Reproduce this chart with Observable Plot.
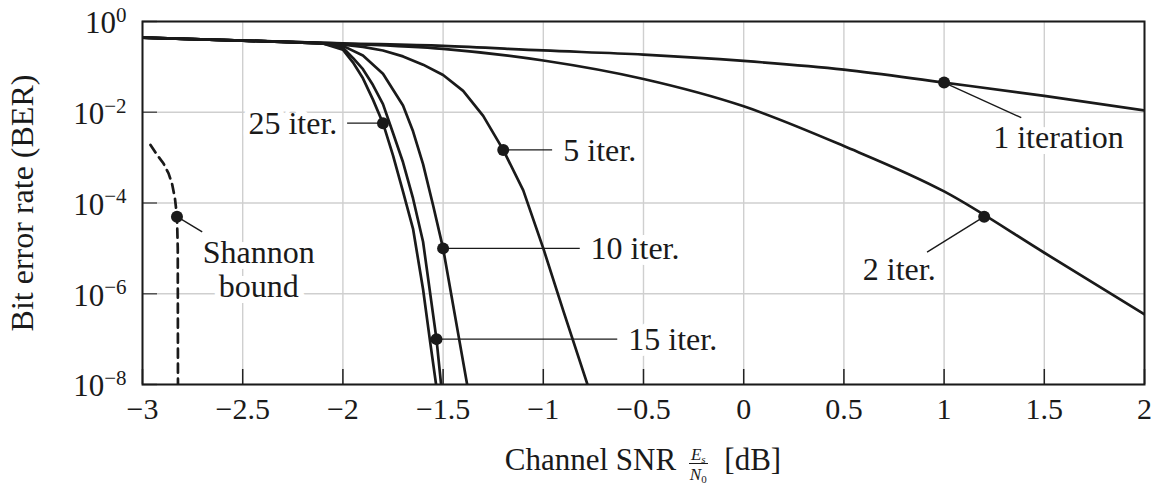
<!DOCTYPE html>
<html>
<head>
<meta charset="utf-8">
<script src="https://cdn.jsdelivr.net/npm/d3@7"></script>
<script src="https://cdn.jsdelivr.net/npm/@observablehq/plot@0.6"></script>
<style>
  body { margin: 0; background: #fff; }
  #wrap { position: relative; width: 1158px; height: 484px; font-family: "Liberation Serif", serif; color: #1a1a1a; }
  #xlabel { position: absolute; left: 142px; width: 1002px; top: 444px; text-align: center; font-size: 31px; line-height: 31px; white-space: nowrap; }
  .frac { display: inline-block; vertical-align: -10px; text-align: center; font-size: 17px; line-height: 15px; margin: 0 9px 0 5px; }
  .frac .num { display: block; border-bottom: 1.3px solid #1a1a1a; padding: 0 2px 1px 2px; }
  .frac .den { display: block; padding-top: 3px; }
  .frac sub { font-size: 11px; line-height: 0; vertical-align: -3px; }
</style>
</head>
<body>
<div id="wrap">
  <div id="chart"></div>
  <div id="xlabel">Channel SNR <span class="frac"><span class="num"><i>E</i><sub><i>s</i></sub></span><span class="den"><i>N</i><sub>0</sub></span></span> [dB]</div>
</div>
<script>
// ---- axis ticks ----
const xTicks = [-3, -2.5, -2, -1.5, -1, -0.5, 0, 0.5, 1, 1.5, 2];
const yTicks = [1, 1e-2, 1e-4, 1e-6, 1e-8];
const yLabel = "Bit error rate (BER)";

// ---- curves (SNR in dB, BER) ----
const snr1 = [-3, -2.5, -2, -1.5, -1, -0.5, 0, 0.5, 1, 1.5, 2];
const ber1 = [0.44, 0.38, 0.33, 0.29, 0.23, 0.186, 0.135, 0.087, 0.045, 0.023, 0.011];

const snr2 = [-3, -2.5, -2, -1.5, -1, -0.5, 0, 0.5, 1, 1.5, 2];
const ber2 = [0.44, 0.38, 0.325, 0.25, 0.138, 0.054, 0.0135, 1.8e-3, 1.8e-4, 8e-6, 3.5e-7];

const snr5 = [-3, -2.5, -2.1, -2, -1.9, -1.8, -1.7, -1.6, -1.5, -1.4, -1.3, -1.2, -1.1, -1, -0.9, -0.75];
const ber5 = [0.44, 0.38, 0.33, 0.31, 0.275, 0.23, 0.17, 0.112, 0.066, 0.0295, 8.3e-3, 1.48e-3, 1.9e-4, 1.0e-5, 4.2e-7, 4e-9];

const snr10 = [-3, -2.5, -2.1, -2, -1.9, -1.8, -1.7, -1.65, -1.6, -1.55, -1.5, -1.46, -1.42, -1.38, -1.36];
const ber10 = [0.44, 0.38, 0.33, 0.29, 0.178, 0.0708, 0.0141, 3.8e-3, 7.2e-4, 8.9e-5, 1e-5, 1e-6, 1e-7, 1e-8, 3.2e-9];

const snr15 = [-3, -2.5, -2.1, -2, -1.95, -1.9, -1.85, -1.8, -1.75, -1.7, -1.65, -1.6, -1.533, -1.51, -1.5];
const ber15 = [0.44, 0.38, 0.33, 0.263, 0.158, 0.089, 0.0398, 0.0151, 3.5e-3, 7.9e-4, 1.26e-4, 1.4e-5, 1e-7, 1e-8, 4e-9];

const snr25 = [-3, -2.5, -2.1, -2, -1.95, -1.9, -1.85, -1.8, -1.75, -1.7, -1.65, -1.6, -1.565, -1.535, -1.52];
const ber25 = [0.44, 0.38, 0.33, 0.24, 0.126, 0.056, 0.019, 5.75e-3, 1.12e-3, 1.78e-4, 2.7e-5, 1.26e-6, 8.9e-8, 1e-8, 3.2e-9];

const snrShannon = [-2.96, -2.93, -2.895, -2.87, -2.852, -2.838, -2.828, -2.824, -2.823];
const berShannon = [1.9e-3, 1.2e-3, 7.4e-4, 4.5e-4, 2.6e-4, 1.26e-4, 5e-5, 1e-5, 1e-8];

// ---- annotations ----
const annText   = ["1 iteration", "2 iter.", "5 iter.", "10 iter.", "15 iter.", "25 iter.", "Shannon\nbound"];
const annSnr    = [1, 1.2, -1.2, -1.5, -1.533, -1.8, -2.828];
const annBer    = [0.045, 5e-5, 1.48e-3, 1e-5, 1e-7, 5.75e-3, 5e-5];
const leadSnr   = [1.385, 0.915, -0.956, -0.818, -0.631, -1.979, -2.702];
const leadBer   = [7.6e-3, 8.3e-6, 1.48e-3, 1e-5, 1e-7, 5.75e-3, 2.3e-5];
const textSnr   = [1.571, 0.776, -0.9, -0.764, -0.576, -2.028, -2.42];
const textBer   = [2.8e-3, 3.4e-6, 1.48e-3, 1e-5, 1e-7, 5.75e-3, 3.5e-6];
const textAnchor = ["middle", "middle", "start", "start", "start", "end", "middle"];

// ---- build tables ----
const mk = (xs, ys) => xs.map((x, i) => ({x, y: ys[i]}));
const smooth = [mk(snr1, ber1), mk(snr2, ber2)];
const curves = [mk(snr5, ber5), mk(snr10, ber10), mk(snr15, ber15), mk(snr25, ber25)];
const shannon = mk(snrShannon, berShannon);
const ann = annText.map((t, i) => ({
  t, mx: annSnr[i], my: annBer[i], lx: leadSnr[i], ly: leadBer[i], tx: textSnr[i], ty: textBer[i], a: textAnchor[i]
}));

const ink = "#1a1a1a";
const W = 1158, H = 430, mL = 142, mR = 14, mT = 21, mB = 46;
const plotW = W - mL - mR, plotH = H - mT - mB;

const chart = Plot.plot({
  width: W, height: H,
  marginLeft: mL, marginRight: mR, marginTop: mT, marginBottom: mB,
  style: {fontFamily: '"Liberation Serif", serif', fontSize: "30px", color: ink, background: "white"},
  x: {domain: [-3, 2]},
  y: {type: "log", domain: [1e-8, 1]},
  marks: [
    Plot.gridX(xTicks, {stroke: "#cfcfcf", strokeOpacity: 1, strokeWidth: 1.4}),
    Plot.gridY(yTicks, {stroke: "#cfcfcf", strokeOpacity: 1, strokeWidth: 1.4}),
    Plot.ruleX(xTicks, {stroke: "#222", strokeWidth: 1.5, insetTop: plotH - 15}),
    Plot.ruleY(yTicks, {stroke: "#555", strokeWidth: 1.5, insetRight: plotW - 15}),
    Plot.axisX(xTicks, {tickSize: 0, tickPadding: 13, fontSize: 30, label: null,
      tickFormat: d => (d < 0 ? "\u2212" : "") + Math.abs(d)}),
    Plot.axisY(yTicks, {tickSize: 0, tickPadding: 16, fontSize: 31, label: null, dy: 2,
      tickFormat: d => { const e = Math.round(Math.log10(d)); return "10^" + (e === 0 ? "0" : "\u2212" + (-e)); }}),
    ...["start", "middle", "end"].map(a => Plot.text(ann.filter(d => d.a === a), {
      x: "tx", y: "ty", text: "t", textAnchor: a, fontSize: 32, lineHeight: 1.05,
      fill: ink, stroke: "white", strokeWidth: 12, paintOrder: "stroke", strokeLinejoin: "round"
    })),
    Plot.link(ann, {x1: "mx", y1: "my", x2: "lx", y2: "ly", stroke: ink, strokeWidth: 1.4}),
    ...smooth.map(c => Plot.line(c, {x: "x", y: "y", stroke: ink, strokeWidth: 2.7, curve: "monotone-x", clip: true})),
    ...curves.map(c => Plot.line(c, {x: "x", y: "y", stroke: ink, strokeWidth: 2.7, strokeLinejoin: "round", clip: true})),
    Plot.line(shannon, {x: "x", y: "y", stroke: ink, strokeWidth: 2.7, strokeDasharray: "9,6", clip: true}),
    Plot.dot(ann, {x: "mx", y: "my", r: 6, fill: ink}),
    Plot.frame({stroke: ink, strokeWidth: 2}),
    Plot.text([yLabel], {text: d => d, frameAnchor: "left", textAnchor: "middle", dx: -120, rotate: -90, fontSize: 32, fill: ink})
  ]
});

// superscript exponents on the y tick labels
d3.select(chart).selectAll("text").each(function () {
  const t = this.textContent;
  if (/^10\^/.test(t)) {
    const exp = t.slice(3);
    const sel = d3.select(this);
    sel.text(null);
    sel.append("tspan").text("10");
    sel.append("tspan").attr("dy", "-0.55em").attr("font-size", 21).text(exp);
  }
});

document.getElementById("chart").appendChild(chart);
</script>
</body>
</html>
